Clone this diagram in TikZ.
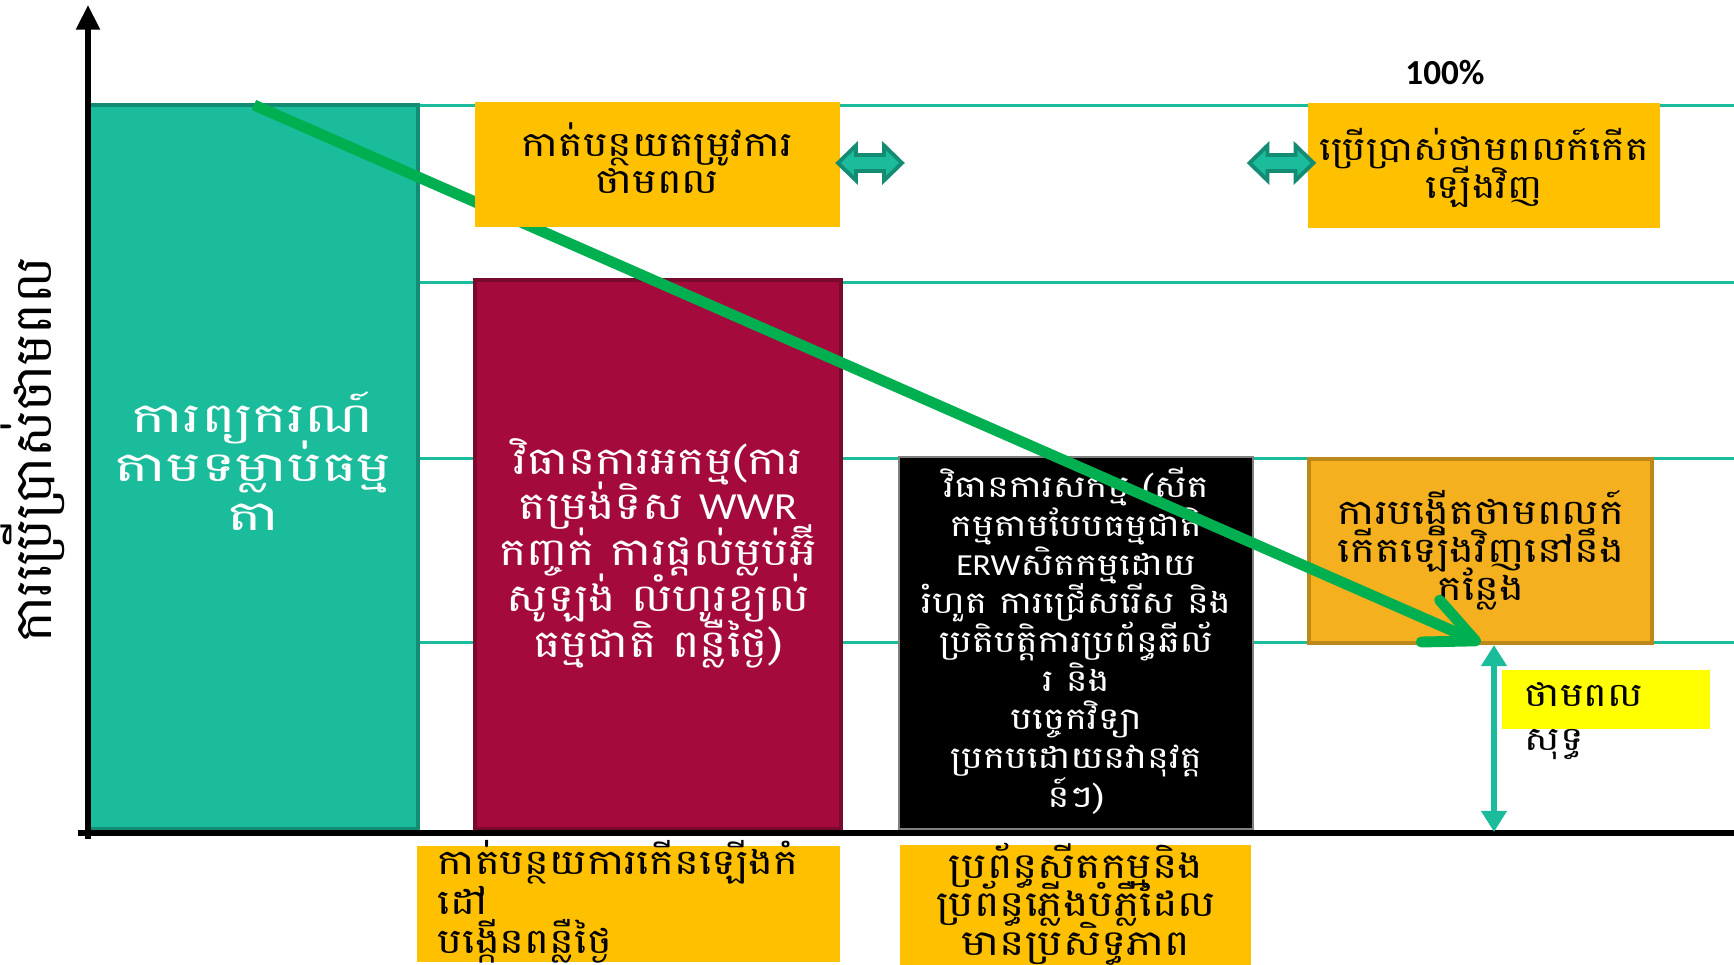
\documentclass[tikz,border=0pt]{standalone}
\usepackage{fontspec}
\newfontfamily\khmn[Script=Khmer]{Battambang}
\newfontfamily\khm[Script=Khmer, FakeStretch=1.2]{Battambang}
\newfontfamily\khmw[Script=Khmer, FakeStretch=1.4]{Battambang}
\newfontfamily\lat{Carlito}
\newfontfamily\latw[FakeStretch=1.1]{Carlito}
\usetikzlibrary{arrows.meta}
\definecolor{tealF}{RGB}{26,188,156}
\definecolor{tealD}{RGB}{20,140,115}
\definecolor{magF}{RGB}{165,10,60}
\definecolor{magD}{RGB}{120,10,45}
\definecolor{gold}{RGB}{255,192,0}
\definecolor{orgF}{RGB}{244,176,30}
\definecolor{orgD}{RGB}{190,135,25}
\definecolor{grn}{RGB}{0,176,80}
\definecolor{ylw}{RGB}{255,255,0}
\tikzset{
  box/.style={rectangle, inner sep=0pt, outer sep=0pt},
  txt/.style={inner sep=0pt, align=center, execute at begin node={\lineskiplimit=-40pt\lineskip=0pt}},
  gridl/.style={draw=tealF, line width=0.85pt},
  axisl/.style={draw=black, line width=1.6pt},
  dblarr/.pic={\draw[fill=tealF, draw=tealD, line width=1.1pt, line join=miter]
     (-32,0) -- (-14,-17.5) -- (-14,-8) -- (14,-8) -- (14,-17.5) -- (32,0)
     -- (14,17.5) -- (14,8) -- (-14,8) -- (-14,17.5) -- cycle;}
}
\begin{document}
\begin{tikzpicture}[x=0.01cm,y=-0.01cm]
\useasboundingbox (0,0) rectangle (1734,965);
\fill[white] (0,0) rectangle (1734,965);
% grid lines
\foreach \yy in {106,283,459,643} \draw[gridl] (418,\yy) -- (1734,\yy);
% boxes
\node[box, fill=tealF, draw=tealD, line width=1.1pt, minimum width=3.30cm, minimum height=7.24cm] (forecast) at (253,467) {};
\node[box, fill=magF, draw=magD, line width=1.1pt, minimum width=3.66cm, minimum height=5.49cm] (passive) at (658,554.5) {};
\node[box, fill=black, draw=gray, line width=0.4pt, minimum width=3.54cm, minimum height=3.72cm] (active) at (1076,643) {};
\node[box, fill=orgF, draw=orgD, line width=1.1pt, minimum width=3.43cm, minimum height=1.84cm] (onsite) at (1480.5,551) {};
\node[box, fill=gold, minimum width=4.23cm, minimum height=1.16cm] (botL) at (628.5,904) {};
\node[box, fill=gold, minimum width=3.51cm, minimum height=1.20cm] (botR) at (1075.5,905) {};
\node[box, fill=ylw, minimum width=2.08cm, minimum height=0.59cm] (net) at (1606,699.5) {};
\node[box, fill=gold, minimum width=3.52cm, minimum height=1.25cm] (topR) at (1484,165.5) {};
% axes
\draw[axisl] (78,833) -- (1734,833);
\draw[axisl, -{Triangle[length=7pt,width=6.5pt]}] (88,839) -- (88,5);
% texts
\node[txt, text=white, font=\khmw\fontsize{11.8}{13.9}\selectfont] (forecastT) at (253,461) {ការព្យករណ៍\\តាមទម្លាប់ធម្ម\\តា};
\node[txt, text=white, font=\khm\fontsize{10.9}{13.0}\selectfont] (passiveT) at (658,553) {វិធានការអកម្ម(ការ\\តម្រង់ទិស {\latw WWR}\\កញ្ចក់ ការផ្តល់ម្លប់អ៊ី\\សូឡង់ លំហូរខ្យល់\\ធម្មជាតិ ពន្លឺថ្ងៃ)};
\node[txt, text=white, font=\khm\fontsize{8.7}{11.0}\selectfont] (activeT) at (1076,641) {វិធានការសកម្ម (សីត\\កម្មតាមបែបធម្មជាតិ\\{\latw ERW}សិតកម្មដោយ\\រំហួត ការជ្រើសរើស និង\\ប្រតិបត្តិការប្រព័ន្ធឆីល័\\រ និង\\បច្ចេកវិទ្យា\\ប្រកបដោយនវានុវត្ត\\ន៍ៗ)};
\node[txt, font=\khm\fontsize{9.9}{10.8}\selectfont] (onsiteT) at (1481,550) {ការបង្កើតថាមពលក៍\\កើតឡើងវិញនៅនឹង\\កន្លែង};
\node[txt, align=left, anchor=west, font=\khm\fontsize{9.9}{11.3}\selectfont] (botLT) at (437,902) {កាត់បន្ថយការកើនឡើងកំ\\ដៅ\\បង្កើនពន្លឺថ្ងៃ};
\node[txt, font=\khm\fontsize{10.1}{11.0}\selectfont] (botRT) at (1076,904) {ប្រព័ន្ធសីតកម្មនិង\\ប្រព័ន្ធភ្លើងបំភ្លឺដែល\\មានប្រសិទ្ធភាព};
\node[txt, align=left, anchor=west, font=\khm\fontsize{9.4}{12.5}\selectfont] (netT) at (1524,721) {ថាមពល\\សុទ្ធ};
\node[txt, font=\khm\fontsize{9.35}{10.8}\selectfont] (topRT) at (1484,168) {ប្រើប្រាស់ថាមពលក៍កើត\\ឡើងវិញ};
\node[txt, rotate=90, font=\khmn\fontsize{14.7}{16}\selectfont] (ylab) at (33,450) {ការប្រើប្រាស់ថាមពល};
\node[txt, font=\lat\bfseries\fontsize{10}{12}\selectfont] (pct) at (1445,73) {100\%};
% net arrow
\coordinate (nt) at (1494,645);
\coordinate (nb) at (1494,832);
\draw[draw=tealF, line width=1.7pt, {Triangle[length=6pt,width=7pt]}-{Triangle[length=6pt,width=7pt]}] (nt) -- (nb);
% green trend arrow
\coordinate (gstart) at (254,105);
\draw[draw=grn, line width=3.1pt, -{Straight Barb[length=14pt,width=13pt,round]}] (gstart) -- (onsite.south);
% top-left box drawn over the green line
\node[box, fill=gold, minimum width=3.65cm, minimum height=1.25cm] (topL) at (657.5,164.5) {};
\node[txt, font=\khm\fontsize{9.8}{10.5}\selectfont] (topLT) at (657,158) {កាត់បន្ថយតម្រូវការ\\ថាមពល};
% block double arrows
\pic at (870,163) {dblarr};
\pic at (1281.5,163) {dblarr};
\end{tikzpicture}
\end{document}
